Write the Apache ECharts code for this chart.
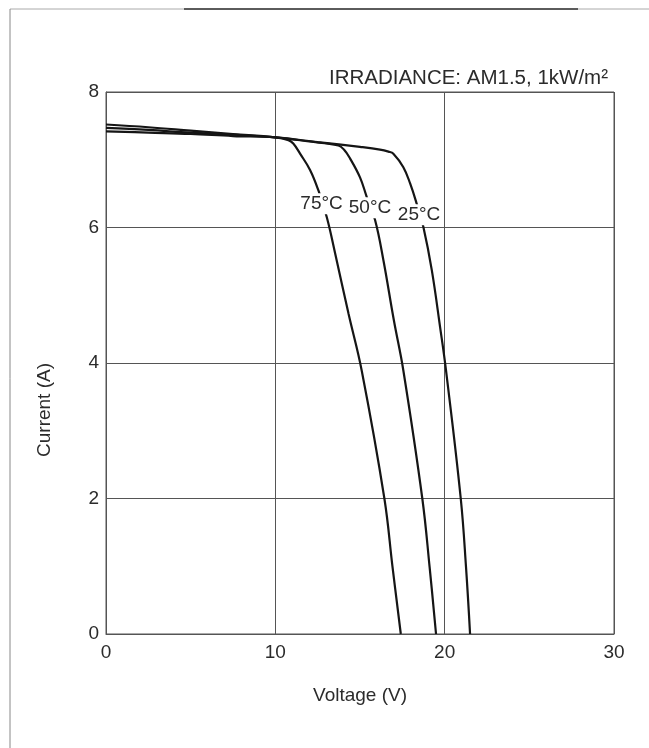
<!DOCTYPE html>
<html>
<head>
<meta charset="utf-8">
<script src="https://cdn.jsdelivr.net/npm/echarts@6/dist/echarts.min.js"></script>
<style>html,body{margin:0;padding:0;background:#fff}#c{width:649px;height:748px}</style>
</head>
<body>
<div id="c"></div>
<script>
// Data (Voltage V, Current A)
const curve75 = [[0,7.52],[2.5,7.48],[5,7.43],[7.5,7.38],[10,7.33],[10.77,7.29],[11.06,7.24],[11.46,7.09],[12.05,6.85],[12.54,6.55],[13.04,6.15],[13.53,5.62],[14.32,4.73],[15.10,3.89],[16.44,2.0],[16.92,0.99],[17.41,0]];
const curve50 = [[0,7.47],[2.5,7.44],[5,7.40],[7.5,7.37],[10,7.33],[12,7.27],[13.72,7.21],[14.05,7.15],[14.41,7.02],[15.0,6.74],[15.40,6.45],[15.89,6.11],[16.38,5.52],[17.0,4.63],[17.56,3.89],[18.68,2.0],[19.11,0.99],[19.49,0]];
const curve25 = [[0,7.42],[2.5,7.40],[5,7.38],[7.5,7.35],[10,7.33],[12.5,7.26],[15,7.19],[16.18,7.15],[16.68,7.12],[16.97,7.09],[17.56,6.89],[17.96,6.65],[18.35,6.35],[18.74,6.01],[19.24,5.37],[19.73,4.53],[20.08,3.89],[20.95,2.0],[21.26,0.99],[21.5,0]];
const seriesNames = ['75°C','50°C','25°C'];
const labelPos = [[12.73,6.35],[15.59,6.29],[18.49,6.19]];
const xRange = [0,30], xStep = 10;
const yRange = [0,8], yStep = 2;
const titleText = 'IRRADIANCE: AM1.5, 1kW/m²';
const xName = 'Voltage (V)';
const yName = 'Current (A)';

const FONT = 'Liberation Sans, Arial, sans-serif';
const TXT = '#2b2b2b';
const chart = echarts.init(document.getElementById('c'), null, {renderer:'canvas'});
const curves = [curve75, curve50, curve25];
chart.setOption({
  backgroundColor:'#fff',
  animation:false,
  title:{text:titleText, right:36, top:63, textStyle:{fontFamily:FONT, fontSize:20.5, fontWeight:'normal', color:TXT}},
  grid:{left:106, right:35, top:92, bottom:114, show:true, borderColor:'#555', borderWidth:1},
  xAxis:{type:'value', min:xRange[0], max:xRange[1], interval:xStep,
    name:xName, nameLocation:'middle', nameGap:52,
    nameTextStyle:{fontFamily:FONT, fontSize:19, color:TXT},
    axisLine:{show:true, lineStyle:{color:'#555', width:1}}, axisTick:{show:false},
    axisLabel:{margin:9, fontFamily:FONT, fontSize:19, color:TXT},
    splitLine:{show:true, lineStyle:{color:'#555', width:1}}},
  yAxis:{type:'value', min:yRange[0], max:yRange[1], interval:yStep,
    axisLine:{show:true, lineStyle:{color:'#555', width:1}}, axisTick:{show:false},
    axisLabel:{margin:7, fontFamily:FONT, fontSize:19, color:TXT},
    splitLine:{show:true, lineStyle:{color:'#555', width:1}}},
  graphic:[
    {type:'line', shape:{x1:10,y1:9,x2:649,y2:9}, style:{stroke:'#aaa', lineWidth:1}},
    {type:'line', shape:{x1:184,y1:9,x2:578,y2:9}, style:{stroke:'#333', lineWidth:1.5}},
    {type:'line', shape:{x1:10,y1:9,x2:10,y2:748}, style:{stroke:'#888', lineWidth:1}},
    {type:'text', x:45, y:410, rotation:Math.PI/2, style:{text:yName, font:'19px '+FONT, fill:TXT, align:'center', verticalAlign:'middle'}}
  ],
  series: curves.map((d,i)=>({
    name:seriesNames[i], type:'line', data:d, showSymbol:false, smooth:0.4,
    lineStyle:{color:'#151515', width:2.2}, itemStyle:{color:'#151515'}, z:2,
    markPoint:{symbol:'rect', symbolSize:1, itemStyle:{color:'rgba(0,0,0,0)'},
      label:{show:true, formatter:seriesNames[i], position:'inside', fontFamily:FONT, fontSize:19, color:TXT,
        backgroundColor:'#fff', padding:[1,1]},
      data:[{coord:labelPos[i]}]}
  }))
});
</script>
</body>
</html>
